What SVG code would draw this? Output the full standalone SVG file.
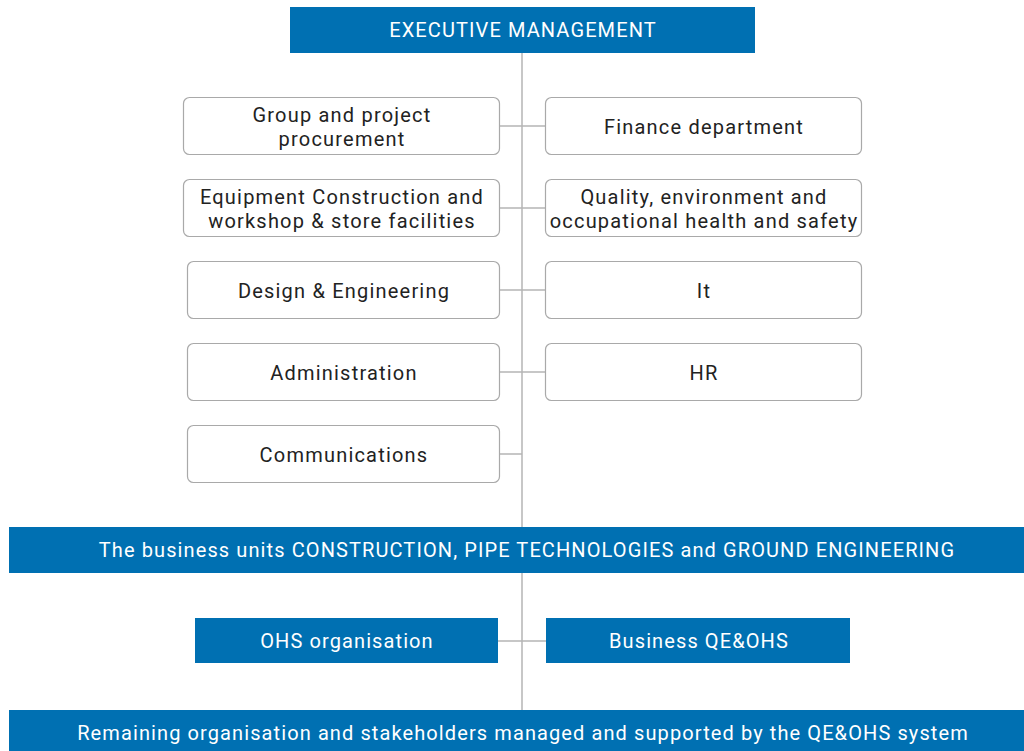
<svg xmlns="http://www.w3.org/2000/svg" width="1024" height="751" viewBox="0 0 1024 751">
<style>
.blue{fill:#0070b2}
.box{fill:#fff;stroke:#a9a9a9;stroke-width:1.2}
.wt{fill:#fff;font-family:Roboto,"Liberation Sans",sans-serif;font-size:20px;letter-spacing:1.1px;text-anchor:middle}
.dt{fill:#222;font-family:Roboto,"Liberation Sans",sans-serif;font-size:20px;letter-spacing:1.2px;text-anchor:middle}
.ln{stroke:#b4b4b4;stroke-width:1.5;fill:none}
</style>
<rect width="1024" height="751" fill="#fff"/>
<g id="connectors">
<line class="ln" x1="522" y1="52" x2="522" y2="711"/>
<line class="ln" x1="500" y1="126" x2="545" y2="126"/>
<line class="ln" x1="500" y1="208" x2="545" y2="208"/>
<line class="ln" x1="500" y1="290" x2="545" y2="290"/>
<line class="ln" x1="500" y1="372" x2="545" y2="372"/>
<line class="ln" x1="500" y1="454" x2="522" y2="454"/>
<line class="ln" x1="498" y1="641" x2="546" y2="641" stroke-width="2"/>
</g>
<g id="exec"><rect class="blue" x="290" y="7" width="465" height="46"/><text class="wt" x="523" y="37">EXECUTIVE MANAGEMENT</text></g>
<g id="procurement"><rect class="box" x="183.5" y="97.5" width="316" height="57" rx="6"/><text class="dt" x="342" y="122">Group and project</text><text class="dt" x="342" y="146">procurement</text></g>
<g id="finance"><rect class="box" x="545.5" y="97.5" width="316" height="57" rx="6"/><text class="dt" x="704" y="134">Finance department</text></g>
<g id="equipment"><rect class="box" x="183.5" y="179.5" width="316" height="57" rx="6"/><text class="dt" x="342" y="204">Equipment Construction and</text><text class="dt" x="342" y="228">workshop &amp; store facilities</text></g>
<g id="quality"><rect class="box" x="545.5" y="179.5" width="316" height="57" rx="6"/><text class="dt" x="704" y="204">Quality, environment and</text><text class="dt" x="704" y="228">occupational health and safety</text></g>
<g id="design"><rect class="box" x="187.5" y="261.5" width="312" height="57" rx="6"/><text class="dt" x="344" y="298">Design &amp; Engineering</text></g>
<g id="it"><rect class="box" x="545.5" y="261.5" width="316" height="57" rx="6"/><text class="dt" x="704" y="298">It</text></g>
<g id="admin"><rect class="box" x="187.5" y="343.5" width="312" height="57" rx="6"/><text class="dt" x="344" y="380">Administration</text></g>
<g id="hr"><rect class="box" x="545.5" y="343.5" width="316" height="57" rx="6"/><text class="dt" x="704" y="380">HR</text></g>
<g id="comms"><rect class="box" x="187.5" y="425.5" width="312" height="57" rx="6"/><text class="dt" x="344" y="462">Communications</text></g>
<g id="business-units"><rect class="blue" x="9" y="527" width="1015" height="46"/><text class="wt" x="527" y="557">The business units CONSTRUCTION, PIPE TECHNOLOGIES and GROUND ENGINEERING</text></g>
<g id="ohs"><rect class="blue" x="195" y="618" width="303" height="45"/><text class="wt" x="347" y="648">OHS organisation</text></g>
<g id="bqe"><rect class="blue" x="546" y="618" width="304" height="45"/><text class="wt" x="699" y="648">Business QE&amp;OHS</text></g>
<g id="remaining"><rect class="blue" x="9" y="710" width="1015" height="41"/><text class="wt" x="523" y="740">Remaining organisation and stakeholders managed and supported by the QE&amp;OHS system</text></g>
</svg>
